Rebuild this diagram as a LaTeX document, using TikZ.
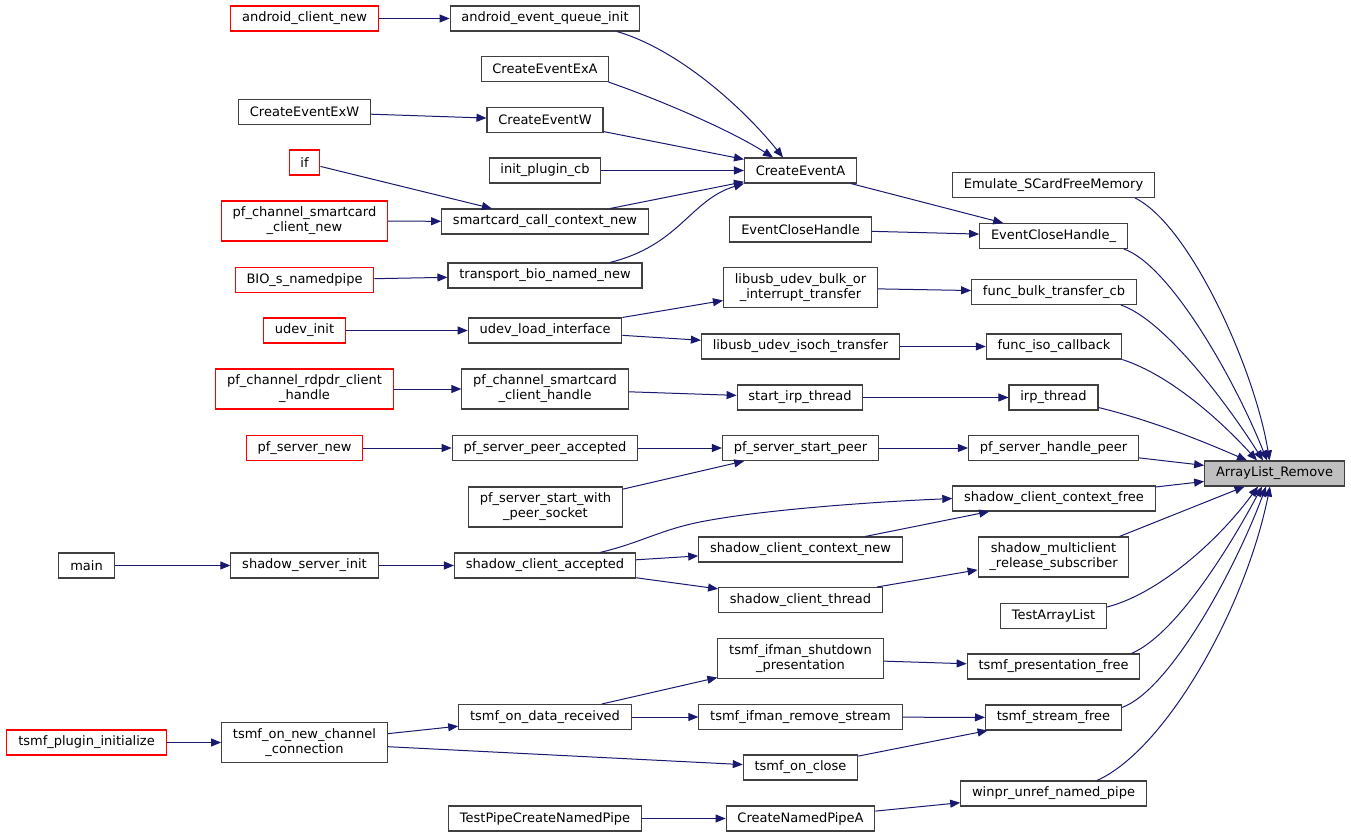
\documentclass[tikz,border=0pt]{standalone}
\usepackage{fontspec}
\setmainfont{DejaVu Sans}
\usetikzlibrary{arrows.meta,calc}

\definecolor{edgeblue}{HTML}{191970}
\definecolor{boxgray}{HTML}{404040}
\definecolor{boxfill}{HTML}{BFBFBF}

\tikzset{
  fn/.style={draw=boxgray, line width=0.8pt, fill=white, inner xsep=8.5pt, inner ysep=0pt,
    minimum height=18.75pt, align=center, font=\fontsize{9.75}{11.25}\selectfont},
  fnred/.style={fn, draw=red},
  fn2/.style={fn, minimum height=30pt},
  fnred2/.style={fnred, minimum height=30pt},
  edge/.style={draw=edgeblue, line width=0.75pt, -{Triangle[length=7.5pt,width=6pt]}}
}

\begin{document}
\begin{tikzpicture}[x=0.75pt,y=-0.75pt]
\useasboundingbox (0,0) rectangle (1351,837);

% Column 0
\node[fn] (main) at (86.5,565.5) {main};
\node[fnred] (tpi) at (86.5,742.5) {tsmf\_plugin\_initialize};

% Column 1
\node[fnred] (acn) at (304.5,18.5) {android\_client\_new};
\node[fn] (cexw) at (304.5,112) {CreateEventExW};
\node[fnred] (iff) at (304.5,162.5) {if};
\node[fnred2] (pcscn) at (304.5,221) {pf\_channel\_smartcard\\\_client\_new};
\node[fnred] (bio) at (304.5,280) {BIO\_s\_namedpipe};
\node[fnred] (udi) at (304.5,330.5) {udev\_init};
\node[fnred2] (rdpdr) at (304.5,389) {pf\_channel\_rdpdr\_client\\\_handle};
\node[fnred] (psn) at (304.5,448) {pf\_server\_new};
\node[fn] (ssi) at (304.5,565.5) {shadow\_server\_init};
\node[fn2] (tnc) at (304.5,742.5) {tsmf\_on\_new\_channel\\\_connection};

% Column 2
\node[fn] (aeqi) at (545,18.5) {android\_event\_queue\_init};
\node[fn] (cexa) at (545,69) {CreateEventExA};
\node[fn] (cew) at (545,120) {CreateEventW};
\node[fn] (ipc) at (545,170.5) {init\_plugin\_cb};
\node[fn] (sccn) at (545,221.5) {smartcard\_call\_context\_new};
\node[fn] (tbnn) at (545,275.5) {transport\_bio\_named\_new};
\node[fn] (uli) at (545,330.5) {udev\_load\_interface};
\node[fn2] (pscch) at (545,389) {pf\_channel\_smartcard\\\_client\_handle};
\node[fn] (pspa) at (545,448) {pf\_server\_peer\_accepted};
\node[fn2] (psswps) at (545.5,507) {pf\_server\_start\_with\\\_peer\_socket};
\node[fn] (sca) at (545,565.5) {shadow\_client\_accepted};
\node[fn] (todr) at (545,717) {tsmf\_on\_data\_received};
\node[fn] (tpcnp) at (545,818.5) {TestPipeCreateNamedPipe};

% Column 3
\node[fn] (cea) at (800.5,170.5) {CreateEventA};
\node[fn] (ech) at (800.5,229.5) {EventCloseHandle};
\node[fn2] (lubi) at (800.5,287.5) {libusb\_udev\_bulk\_or\\\_interrupt\_transfer};
\node[fn] (luit) at (800.5,346.5) {libusb\_udev\_isoch\_transfer};
\node[fn] (sit) at (800,397.5) {start\_irp\_thread};
\node[fn] (pssp) at (800.5,448) {pf\_server\_start\_peer};
\node[fn] (sccnw) at (800.5,549.5) {shadow\_client\_context\_new};
\node[fn] (sct) at (800.5,600) {shadow\_client\_thread};
\node[fn2] (tisp) at (800.5,658.5) {tsmf\_ifman\_shutdown\\\_presentation};
\node[fn] (tirs) at (800.5,717) {tsmf\_ifman\_remove\_stream};
\node[fn] (toc) at (800.5,767.5) {tsmf\_on\_close};
\node[fn] (cnpa) at (800.5,818.5) {CreateNamedPipeA};

% Column 4
\node[fn] (escfm) at (1053.5,185) {Emulate\_SCardFreeMemory};
\node[fn] (ech2) at (1053.5,236) {EventCloseHandle\_};
\node[fn] (fbtc) at (1054,292) {func\_bulk\_transfer\_cb};
\node[fn] (fic) at (1054,346.5) {func\_iso\_callback};
\node[fn] (irp) at (1053.5,397.5) {irp\_thread};
\node[fn] (pshp) at (1053.5,448) {pf\_server\_handle\_peer};
\node[fn] (sccf) at (1054,498.5) {shadow\_client\_context\_free};
\node[fn2] (smrs) at (1053.5,557) {shadow\_multiclient\\\_release\_subscriber};
\node[fn] (tal) at (1053.5,616) {TestArrayList};
\node[fn] (tpf) at (1053.5,666.5) {tsmf\_presentation\_free};
\node[fn] (tsf) at (1053.5,717.5) {tsmf\_stream\_free};
\node[fn] (wunp) at (1053.5,793.5) {winpr\_unref\_named\_pipe};

% Target
\node[fn, fill=boxfill] (remove) at (1274.5,473.5) {ArrayList\_Remove};

% Calls into CreateEventA
\draw[edge] (acn) -- (aeqi);
\draw[edge] ($(aeqi.south)+(72,0)$) .. controls (680,50) and (745,110) .. ($(cea.north)+(-17.5,0)$);
\draw[edge] ($(cexa.south east)+(-1,0)$) .. controls (660,100) and (730,130) .. ($(cea.north)+(-27.5,0)$);
\draw[edge] (cexw) -- (cew);
\draw[edge] (cew) -- (cea);
\draw[edge] (ipc) -- (cea);
\draw[edge] (iff) -- (sccn);
\draw[edge] (pcscn) -- (sccn);
\draw[edge] (sccn) -- (cea);
\draw[edge] (bio) -- (tbnn);
\draw[edge] ($(tbnn.north)+(65,0)$) .. controls (680,245) and (690,200) .. (cea.south west);
\draw[edge] (cea) -- (ech2);
\draw[edge] (ech) -- (ech2);

% udev and irp
\draw[edge] (udi) -- (uli);
\draw[edge] (uli) -- (lubi);
\draw[edge] (uli) -- (luit);
\draw[edge] (lubi) -- (fbtc);
\draw[edge] (luit) -- (fic);
\draw[edge] (rdpdr) -- (pscch);
\draw[edge] (pscch) -- (sit);
\draw[edge] (sit) -- (irp);

% pf_server
\draw[edge] (psn) -- (pspa);
\draw[edge] (pspa) -- (pssp);
\draw[edge] (psswps) -- (pssp);
\draw[edge] (pssp) -- (pshp);

% shadow
\draw[edge] (main) -- (ssi);
\draw[edge] (ssi) -- (sca);
\draw[edge] ($(sca.north)+(55,0)$) .. controls (640,543) and (660,530) .. (700,522)
  .. controls (760,510) and (870,502) .. (sccf.west);
\draw[edge] (sca) -- (sccnw);
\draw[edge] (sca) -- (sct);
\draw[edge] (sccnw) -- (sccf);
\draw[edge] (sct) -- (smrs);

% tsmf
\draw[edge] (tpi) -- (tnc);
\draw[edge] (tnc) -- (todr);
\draw[edge] (tnc) -- (toc);
\draw[edge] (todr) -- (tisp);
\draw[edge] (todr) -- (tirs);
\draw[edge] (tisp) -- (tpf);
\draw[edge] (tirs) -- (tsf);
\draw[edge] (toc) -- (tsf);

% named pipe
\draw[edge] (tpcnp) -- (cnpa);
\draw[edge] (cnpa) -- (wunp);

% Calls into ArrayList_Remove
\draw[edge] ($(escfm.south east)+(-20,0)$) .. controls (1190,225) and (1255,370) .. ($(remove.north)+(-5,0)$);
\draw[edge] ($(ech2.south east)+(-4,0)$) .. controls (1170,265) and (1235,380) .. ($(remove.north)+(-7.5,0)$);
\draw[edge] ($(fbtc.south east)+(-16,0)$) .. controls (1165,320) and (1228,405) .. ($(remove.north)+(-11.5,0)$);
\draw[edge] (fic.south east) .. controls (1170,375) and (1220,420) .. ($(remove.north)+(-17.5,0)$);
\draw[edge] ($(irp.south east)+(0,-3)$) .. controls (1150,420) and (1200,440) .. ($(remove.north)+(-27.5,0)$);
\draw[edge] (pshp) -- (remove);
\draw[edge] (sccf) -- (remove);
\draw[edge] ($(smrs.north east)+(-10,0)$) -- ($(remove.south)+(-30,0)$);
\draw[edge] ($(tal.north east)+(0,4)$) .. controls (1155,595) and (1215,545) .. ($(remove.south)+(-16.5,0)$);
\draw[edge] ($(tpf.north east)+(-9,0)$) .. controls (1175,635) and (1228,550) .. ($(remove.south)+(-12.5,0)$);
\draw[edge] ($(tsf.north east)+(0,3)$) .. controls (1170,690) and (1235,570) .. ($(remove.south)+(-8.5,0)$);
\draw[edge] ($(wunp.north)+(43.5,0)$) .. controls (1165,750) and (1245,610) .. ($(remove.south)+(-4.5,0)$);

\end{tikzpicture}
\end{document}
